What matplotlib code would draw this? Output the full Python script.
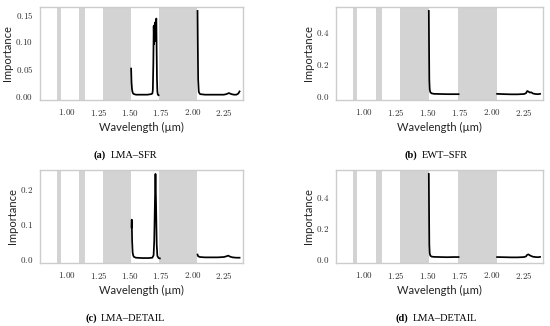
import numpy as np
import matplotlib
matplotlib.use("Agg")
import matplotlib.pyplot as plt
from matplotlib.ticker import FuncFormatter, MultipleLocator
from matplotlib.offsetbox import TextArea, HPacker, AnchoredOffsetbox

plt.rcParams['mathtext.fontset'] = 'cm'

# ---- data ----
nan = np.nan
bands = [(0.917, 0.949), (1.098, 1.146), (1.284, 1.508), (1.737, 2.037)]

# panel (a) LMA-SFR
wl_a = [1.511, 1.514, 1.518, 1.522, 1.527, 1.535, 1.55, 1.60, 1.64, 1.67, 1.68, 1.684,
        1.688, 1.691, 1.694, 1.697, 1.700, 1.703, 1.706, 1.709, 1.712, 1.714, 1.717, 1.720, 1.724, 1.73,
        nan,
        2.040, 2.042, 2.045, 2.05, 2.06, 2.10, 2.15, 2.20, 2.25, 2.27, 2.29, 2.31, 2.33, 2.35, 2.365, 2.375]
imp_a = [0.050, 0.025, 0.012, 0.007, 0.004, 0.003, 0.002, 0.002, 0.002, 0.003, 0.004, 0.010,
         0.060, 0.128, 0.095, 0.130, 0.100, 0.135, 0.105, 0.138, 0.142, 0.090, 0.030, 0.008, 0.002, 0.001,
         nan,
         0.156, 0.100, 0.030, 0.007, 0.003, 0.002, 0.002, 0.002, 0.002, 0.003, 0.005, 0.003, 0.002, 0.002, 0.004, 0.008]

# panel (b) EWT-SFR
wl_b = [1.508, 1.510, 1.512, 1.515, 1.52, 1.53, 1.55, 1.60, 1.65, 1.70, 1.74,
        nan,
        2.040, 2.10, 2.15, 2.20, 2.25, 2.265, 2.275, 2.285, 2.295, 2.305, 2.32, 2.34, 2.36, 2.375]
imp_b = [0.535, 0.30, 0.10, 0.04, 0.022, 0.015, 0.012, 0.011, 0.010, 0.010, 0.010,
         nan,
         0.012, 0.010, 0.009, 0.009, 0.011, 0.016, 0.030, 0.026, 0.020, 0.022, 0.014, 0.011, 0.010, 0.012]

# panel (c) LMA-DETAIL
wl_c = [1.514, 1.516, 1.519, 1.523, 1.528, 1.535, 1.55, 1.60, 1.65, 1.68, 1.69, 1.695, 1.700,
        1.705, 1.710, 1.715, 1.720, 1.73, 1.74,
        nan,
        2.040, 2.045, 2.06, 2.10, 2.15, 2.20, 2.25, 2.27, 2.285, 2.30, 2.32, 2.35, 2.375]
imp_c = [0.090, 0.112, 0.050, 0.018, 0.009, 0.005, 0.003, 0.002, 0.002, 0.003, 0.010, 0.050, 0.150,
         0.243, 0.150, 0.040, 0.008, 0.002, 0.001,
         nan,
         0.012, 0.007, 0.005, 0.004, 0.004, 0.004, 0.005, 0.007, 0.009, 0.006, 0.004, 0.003, 0.003]

# panel (d) LMA-DETAIL
wl_d = [1.508, 1.510, 1.512, 1.515, 1.52, 1.53, 1.55, 1.60, 1.65, 1.70, 1.74,
        nan,
        2.040, 2.10, 2.15, 2.20, 2.25, 2.265, 2.275, 2.285, 2.295, 2.305, 2.32, 2.34, 2.36, 2.375]
imp_d = [0.547, 0.30, 0.09, 0.035, 0.020, 0.014, 0.012, 0.011, 0.010, 0.011, 0.011,
         nan,
         0.011, 0.010, 0.009, 0.009, 0.011, 0.015, 0.026, 0.028, 0.022, 0.018, 0.013, 0.011, 0.010, 0.012]

x_ticks = [1.00, 1.25, 1.50, 1.75, 2.00, 2.25]
panels = [
    ("(a)", "LMA–SFR", wl_a, imp_a, 0.05, 2),
    ("(b)", "EWT–SFR", wl_b, imp_b, 0.2, 1),
    ("(c)", "LMA–DETAIL", wl_c, imp_c, 0.1, 1),
    ("(d)", "LMA–DETAIL", wl_d, imp_d, 0.2, 1),
]

# ---- layout ----
W, H = 550, 326
fig = plt.figure(figsize=(W / 100, H / 100), dpi=100)

def rect(l, r, t, b):
    return [l / W, 1 - b / H, (r - l) / W, (b - t) / H]

rects = [rect(40, 242.7, 6.7, 100), rect(336, 543.3, 6.7, 100),
         rect(40, 242.7, 169.7, 263), rect(336, 543.3, 169.7, 263)]
cap_pos = [(125.5, 155), (436.5, 155), (125.5, 318), (436.5, 318)]

sans = ['Lato', 'DejaVu Sans']
spine_col = '#cccccc'
band_col = '#d3d3d3'

for (tag, name, wl, imp, ystep, dec), r, (cx, cy) in zip(panels, rects, cap_pos):
    ax = fig.add_axes(r)
    for lo, hi in bands:
        ax.axvspan(lo, hi, color=band_col, lw=0, zorder=0)
    ax.plot(wl, imp, color='black', lw=1.25, zorder=2)
    ax.set_xlim(0.785, 2.40)
    vals = np.array(imp, dtype=float)
    vmax = np.nanmax(vals)
    ax.set_ylim(-0.05 * vmax, 1.05 * vmax)
    ax.xaxis.set_major_locator(matplotlib.ticker.FixedLocator(x_ticks))
    ax.xaxis.set_major_formatter(FuncFormatter(lambda v, p: f'${v:.2f}$'))
    ax.yaxis.set_major_locator(MultipleLocator(ystep))
    ax.yaxis.set_major_formatter(FuncFormatter(lambda v, p, d=dec: f'${v:.{d}f}$'))
    ax.tick_params(length=0, labelsize=6.5, colors='#333333', pad=5)
    for s in ax.spines.values():
        s.set_color(spine_col)
        s.set_linewidth(1.0)
    ax.set_xlabel('Wavelength (µm)', family=sans, fontsize=8, labelpad=3, color='#222222')
    ax.set_ylabel('Importance', family=sans, fontsize=8, labelpad=1.5, color='#222222')

    t1 = TextArea(tag, textprops=dict(family='Liberation Serif', fontweight='bold', fontsize=7.5))
    t2 = TextArea(name, textprops=dict(family='Liberation Serif', fontsize=7.5))
    box = HPacker(children=[t1, t2], align='baseline', pad=0, sep=3)
    anch = AnchoredOffsetbox(loc='center', child=box, frameon=False, pad=0, borderpad=0,
                             bbox_to_anchor=(cx / W, 1 - cy / H),
                             bbox_transform=fig.transFigure)
    fig.add_artist(anch)

fig.savefig('out.png', dpi=100)
